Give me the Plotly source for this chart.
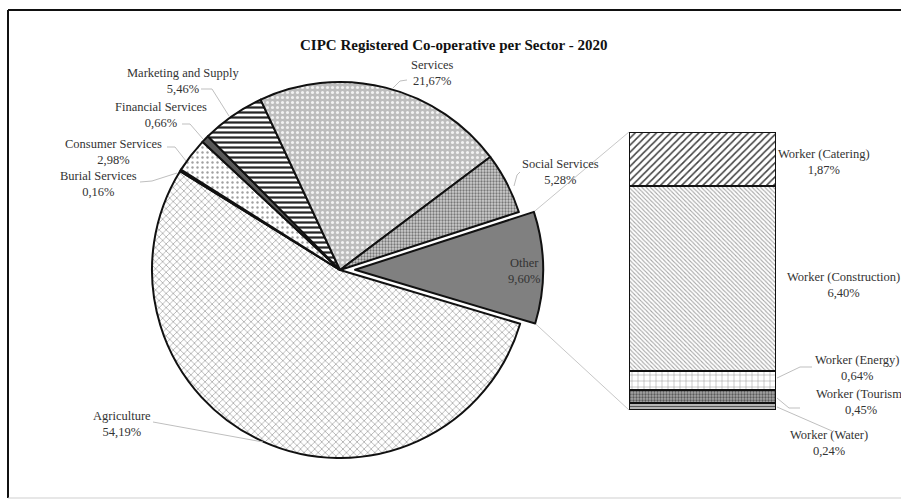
import math
import plotly.graph_objects as go

W, H = 901, 500

# ---------------- data ----------------
pie_labels = ["Agriculture", "Burial Services", "Consumer Services", "Financial Services",
              "Marketing and Supply", "Services", "Social Services", "Other"]
pie_values = [54.19, 0.16, 2.98, 0.66, 5.46, 21.67, 5.28, 9.60]

bar_labels = ["Worker (Water)", "Worker (Tourism)", "Worker (Energy)",
              "Worker (Construction)", "Worker (Catering)"]
bar_values = [0.24, 0.45, 0.64, 6.40, 1.87]

title_text = "CIPC Registered Co-operative per Sector - 2020"


def pct(v):
    return f"{v:.2f}".replace(".", ",") + "%"


def px(x):
    return x / W


def py(y):
    return 1 - y / H


# ---------------- styles ----------------
pie_bg = ["white", "#d9d9d9", "white", "#595959", "white", "#bdbdbd", "#cfcfcf", "#808080"]
pie_shape = ["x", "", ".", "", "-", ".", ".", ""]
pie_fg = ["#8c8c8c", "#d9d9d9", "#a0a0a0", "#595959", "#262626", "#f2f2f2", "#777777", "#808080"]
pie_size = [5, 4, 5, 4, 5, 5, 3, 4]
pie_sol = [0.22, 0.3, 0.18, 0.3, 0.45, 0.3, 0.45, 0.3]

bar_bg = ["#bfbfbf", "#a6a6a6", "white", "white", "white"]
bar_shape = ["-", ".", "+", "\\", "/"]
bar_fg = ["#595959", "#595959", "#8c8c8c", "#a6a6a6", "#404040"]
bar_size = [3, 3, 6, 3, 5]
bar_sol = [0.4, 0.45, 0.15, 0.35, 0.3]

FONT = "Liberation Serif"
TXT = "#333333"

# pie geometry (pixels)
cx, cy, R = 340, 270, 188
pull_other = 0.08
rotation = 106.6
half = R * (1 + pull_other)

fig = go.Figure()

fig.add_trace(go.Pie(
    labels=pie_labels, values=pie_values, sort=False, direction="clockwise",
    rotation=rotation, textinfo="none", hoverinfo="label+percent",
    pull=[pull_other if l == "Other" else 0 for l in pie_labels],
    domain=dict(x=[px(cx - half), px(cx + half)], y=[py(cy + half), py(cy - half)]),
    marker=dict(colors=pie_bg, line=dict(color="#111111", width=2),
                pattern=dict(shape=pie_shape, fgcolor=pie_fg, bgcolor=pie_bg,
                             size=pie_size, solidity=pie_sol, fillmode="replace")),
    showlegend=False,
))

# stacked bar (bar of pie)
bar_left, bar_right, bar_top, bar_bottom = 629, 776, 132, 410
for i, (lab, v) in enumerate(zip(bar_labels, bar_values)):
    fig.add_trace(go.Bar(
        x=[0], y=[v], name=lab, width=1,
        marker=dict(color=bar_bg[i], line=dict(color="#111111", width=2),
                    pattern=dict(shape=bar_shape[i], fgcolor=bar_fg[i], bgcolor=bar_bg[i],
                                 size=bar_size[i], solidity=bar_sol[i], fillmode="replace")),
        showlegend=False, hoverinfo="name+y",
    ))

fig.update_layout(
    width=W, height=H, margin=dict(l=0, r=0, t=0, b=0),
    paper_bgcolor="white", plot_bgcolor="rgba(0,0,0,0)",
    barmode="stack", bargap=0,
    xaxis=dict(domain=[px(bar_left), px(bar_right)], range=[-0.5, 0.5], visible=False, fixedrange=True),
    yaxis=dict(domain=[py(bar_bottom), py(bar_top)], range=[0, sum(bar_values)], visible=False, fixedrange=True),
    font=dict(family=FONT, size=12.5, color=TXT),
)

shapes = []
annotations = []

# chart border
shapes.append(dict(type="line", xref="paper", yref="paper", x0=px(8), x1=px(905), y0=py(10), y1=py(10),
                   line=dict(color="#111111", width=2)))
shapes.append(dict(type="line", xref="paper", yref="paper", x0=px(8), x1=px(8), y0=py(10), y1=py(498),
                   line=dict(color="#111111", width=2)))
shapes.append(dict(type="line", xref="paper", yref="paper", x0=px(8), x1=px(905), y0=py(498), y1=py(498),
                   line=dict(color="#cfcfcf", width=1)))

# title
annotations.append(dict(text=f"<b>{title_text}</b>", xref="paper", yref="paper", x=px(453), y=py(45),
                        showarrow=False, xanchor="center", yanchor="middle",
                        font=dict(family=FONT, size=15, color="#111111")))

# connector lines from Other slice corners to bar
total = sum(pie_values)
idx_other = pie_labels.index("Other")
start_frac = sum(pie_values[:idx_other]) / total
a0 = math.radians(rotation + 360 * start_frac)
a1 = math.radians(rotation + 360 * (start_frac + pie_values[idx_other] / total))
am = (a0 + a1) / 2
ox, oy = cx + pull_other * R * math.sin(am), cy - pull_other * R * math.cos(am)
c_top = (ox + R * math.sin(a0), oy - R * math.cos(a0))
c_bot = (ox + R * math.sin(a1), oy - R * math.cos(a1))
for (sx, sy), (ex, ey) in [(c_top, (bar_left, bar_top)), (c_bot, (bar_left, bar_bottom))]:
    shapes.append(dict(type="line", xref="paper", yref="paper", x0=px(sx), y0=py(sy), x1=px(ex), y1=py(ey),
                       line=dict(color="#c8c8c8", width=1), layer="below"))

# pie data labels: (center x, center y) in pixels + leader polyline
pie_label_pos = {
    "Agriculture": (122, 424, [(153, 422), (263, 442)]),
    "Burial Services": (98, 184, [(140, 182), (152, 181), (177, 173)]),
    "Consumer Services": (113, 152, [(167, 147), (175, 147), (186, 161)]),
    "Financial Services": (161, 115, [(182, 124), (190, 124), (203, 139)]),
    "Marketing and Supply": (183, 81, [(201, 89), (212, 89), (229, 116)]),
    "Services": (432, 73, [(407, 80), (400, 81), (392, 89)]),
    "Social Services": (560, 172, [(520, 172), (517, 175), (514, 186)]),
    "Other": (524, 271, None),
}
for lab, v in zip(pie_labels, pie_values):
    x, y, lead = pie_label_pos[lab]
    annotations.append(dict(text=f"{lab}<br>{pct(v)}", xref="paper", yref="paper", x=px(x), y=py(y),
                            showarrow=False, xanchor="center", yanchor="middle", align="center",
                            font=dict(family=FONT, size=12.5, color=TXT)))
    if lead:
        path = "M " + " L ".join(f"{px(a)},{py(b)}" for a, b in lead)
        shapes.append(dict(type="path", xref="paper", yref="paper", path=path,
                           line=dict(color="#bfbfbf", width=1)))

# bar data labels
bar_label_pos = {
    "Worker (Catering)": (824, 162, None),
    "Worker (Construction)": (843, 285, None),
    "Worker (Energy)": (857, 368, [(812, 367), (800, 367), (777, 378)]),
    "Worker (Tourism)": (861, 402, [(800, 408), (789, 408), (777, 398)]),
    "Worker (Water)": (829, 443, [(832, 431), (777, 407)]),
}
for lab, v in zip(bar_labels, bar_values):
    x, y, lead = bar_label_pos[lab]
    annotations.append(dict(text=f"{lab}<br>{pct(v)}", xref="paper", yref="paper", x=px(x), y=py(y),
                            showarrow=False, xanchor="center", yanchor="middle", align="center",
                            font=dict(family=FONT, size=12.5, color=TXT)))
    if lead:
        path = "M " + " L ".join(f"{px(a)},{py(b)}" for a, b in lead)
        shapes.append(dict(type="path", xref="paper", yref="paper", path=path,
                           line=dict(color="#bfbfbf", width=1)))

fig.update_layout(shapes=shapes, annotations=annotations)
fig.write_html("out.html")
